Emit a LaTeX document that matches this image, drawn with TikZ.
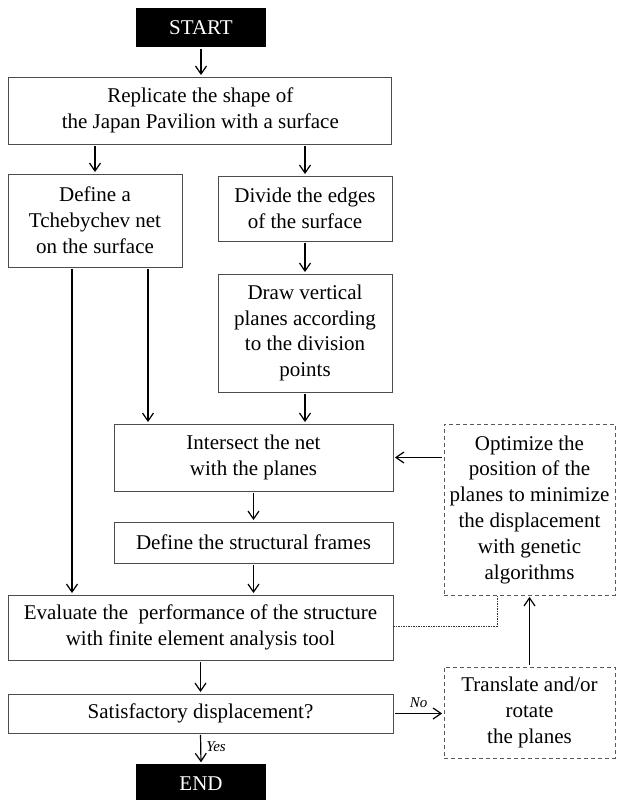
\documentclass[tikz,border=0pt]{standalone}
\usepackage{fontspec}
\setmainfont{Liberation Serif}
\usetikzlibrary{arrows.meta}
\begin{document}
\begin{tikzpicture}[x=1pt,y=-1pt,
  every node/.style={font=\fontsize{21}{25.8}\selectfont, align=center, inner sep=0pt},
  box/.style={draw=black!70, line width=0.9pt},
  dbox/.style={draw=black!65, line width=0.8pt, dash pattern=on 4pt off 3pt},
  term/.style={fill=black, text=white},
  arr/.style={line width=1.2pt, -{Straight Barb[length=8pt,width=11pt,line width=1.2pt]}, shorten >=1.5pt, shorten <=1.5pt},
  lbl/.style={font=\fontsize{15}{17}\selectfont\itshape}
]
\useasboundingbox (0,0) rectangle (616,800);
\fill[white] (0,0) rectangle (616,800);

\node[term, minimum width=130pt, minimum height=39pt] (start) at (201,27.5) {START};
\node[box, minimum width=383pt, minimum height=67pt] (rep) at (200.3,110.5) {Replicate the shape of\\the Japan Pavilion with a surface};
\node[box, minimum width=174pt, minimum height=93pt] (tch) at (95,220.5) {Define a\\Tchebychev net\\on the surface};
\node[box, minimum width=174pt, minimum height=65pt] (div) at (305,208.5) {Divide the edges\\of the surface};
\node[box, minimum width=174pt, minimum height=118pt] (drw) at (305,333) {Draw vertical\\planes according\\to the division\\points};
\node[box, minimum width=279pt, minimum height=67pt] (int) at (253.5,457.5) {Intersect the net\\with the planes};
\node[dbox, minimum width=171pt, minimum height=171pt] (opt) at (529.5,509.5) {Optimize the\\position of the\\planes to minimize\\the displacement\\with genetic\\algorithms};
\node[box, minimum width=279pt, minimum height=41pt] (frm) at (253.5,542.5) {Define the structural frames};
\node[box, minimum width=385pt, minimum height=65pt] (eva) at (200.5,627.5) {Evaluate the~ performance of the structure\\with finite element analysis tool};
\node[box, minimum width=385pt, minimum height=39pt] (sat) at (200.5,713.5) {Satisfactory displacement?};
\node[dbox, minimum width=171pt, minimum height=91pt] (trn) at (529.5,712.5) {Translate and/or\\rotate\\the planes};
\node[term, minimum width=130pt, minimum height=40pt] (end) at (201,784) {END};

\coordinate (dotx) at (497,0);

\draw[arr] (start.south) -- (start.south |- rep.north);
\draw[arr] (tch.north |- rep.south) -- (tch.north);
\draw[arr] (div.north |- rep.south) -- (div.north);
\draw[arr] (div.south) -- (drw.north);
\draw[arr] ([xshift=-23pt]tch.south) -- ([xshift=-23pt]tch.south |- eva.north);
\draw[arr] ([xshift=53pt]tch.south) -- ([xshift=53pt]tch.south |- int.north);
\draw[arr] (drw.south) -- (drw.south |- int.north);
\draw[arr] (int.south) -- (frm.north);
\draw[arr] (frm.south) -- (frm.south |- eva.north);
\draw[arr] (eva.south) -- (sat.north);
\draw[arr] (sat.south) -- node[lbl, right=5pt, pos=0.45] (yes) {Yes} (end.north);
\draw[arr] (int.east -| opt.west) -- (int.east);
\draw[arr] (sat.east) -- node[lbl, above=5pt] (no) {No} (sat.east -| trn.west);
\draw[arr] (trn.north) -- (opt.south);
\draw[line width=1pt, dash pattern=on 1.2pt off 1.3pt, black!80] ([yshift=1.5pt]eva.east) -- ([yshift=1.5pt]eva.east -| dotx) -- (opt.south -| dotx);
\end{tikzpicture}
\end{document}
